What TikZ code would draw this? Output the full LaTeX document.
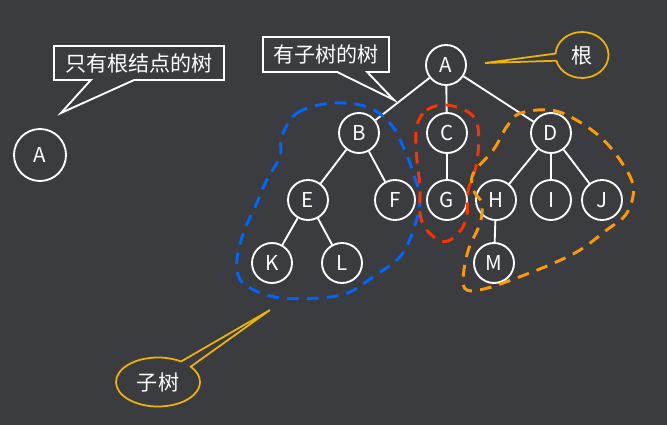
\documentclass[tikz,border=0pt]{standalone}
\usepackage{fontspec}
\setmainfont{Noto Sans CJK SC}
\usetikzlibrary{shapes.callouts,shapes.geometric}
\definecolor{bgdark}{RGB}{58,60,64}
\definecolor{subblue}{RGB}{0,102,255}
\definecolor{subred}{RGB}{255,51,0}
\definecolor{suborange}{RGB}{255,153,0}
\definecolor{tipyellow}{RGB}{240,180,0}

\begin{document}
\begin{tikzpicture}[x=0.03cm,y=-0.03cm,
    every node/.style={font=\fontsize{17.5}{19}\selectfont,text=white},
    tnode/.style={circle,draw=white,line width=1.6pt,minimum size=1.2cm,inner sep=0pt},
    tedge/.style={white,line width=1.6pt},
    boxtip/.style={rectangle callout,draw=white,line width=1.6pt,fill=bgdark,
      inner sep=0pt,font=\fontsize{18}{20}\selectfont},
    roundtip/.style={ellipse callout,draw=tipyellow,line width=1.5pt,fill=bgdark,
      inner sep=0pt,callout pointer arc=18,font=\fontsize{18}{20}\selectfont},
    blob/.style={line width=2.5pt,dash pattern=on 10pt off 7pt}]
  % background
  \fill[bgdark] (0,0) rectangle (667,425);

  % tree with only a root
  \node[tnode,minimum size=1.56cm] (solo) at (40,155) {A};
  \coordinate (soloTip) at (61,113);
  \node[boxtip,minimum width=5.1cm,minimum height=1.02cm,
    callout absolute pointer=(soloTip),callout pointer width=1.3cm] (onlyroot) at (139,63) {只有根结点的树};

  % the tree
  \node[tnode] (A) at (446,65) {A};
  \node[tnode] (B) at (359,133) {B};
  \node[tnode] (C) at (447,133) {C};
  \node[tnode] (D) at (551,133) {D};
  \node[tnode] (E) at (308,200) {E};
  \node[tnode] (F) at (395,200) {F};
  \node[tnode] (G) at (447,200) {G};
  \node[tnode] (H) at (496,200) {H};
  \node[tnode] (I) at (551,200) {I};
  \node[tnode] (J) at (602,200) {J};
  \node[tnode] (K) at (272,263) {K};
  \node[tnode] (L) at (342,263) {L};
  \node[tnode] (M) at (494,263) {M};
  \foreach \p/\c in {A/B,A/C,A/D,B/E,B/F,C/G,D/H,D/I,D/J,E/K,E/L,H/M}
    \draw[tedge] (\p) -- (\c);

  % callouts
  \coordinate (treeTip) at (394,100);
  \node[boxtip,minimum width=3.78cm,minimum height=1.05cm,
    callout absolute pointer=(treeTip),callout pointer width=0.9cm] (withsub) at (326,54.5) {有子树的树};
  \coordinate (rootTip) at (485,63);
  \node[roundtip,minimum width=1.59cm,minimum height=1.38cm,
    callout absolute pointer=(rootTip)] (rootlbl) at (582,55) {根};
  \coordinate (subTip) at (270,310);
  \node[roundtip,minimum width=2.52cm,minimum height=1.47cm,
    callout absolute pointer=(subTip)] (sublbl) at (158,382) {子树};

  % subtrees
  \draw[blob,subblue] plot[smooth cycle,tension=0.6] coordinates {
    (281.7,136.7) (296.7,113.3) (330,103.3) (366.7,106.7) (390,123.3)
    (403.3,146.7) (413.3,173.3) (420,200) (413.3,230) (400,256.7)
    (373.3,276.7) (346.7,293.3) (313.3,298.3) (273.3,296.7) (243.3,283.3)
    (236.7,263.3) (243.3,233.3) (256.7,203.3) (266.7,180) (280,156.7)};
  \draw[blob,subred] plot[smooth cycle,tension=0.6] coordinates {
    (416.7,126.7) (426.7,110) (446.7,105) (470,113.3) (478.3,130)
    (476.7,163.3) (468.3,190) (466.7,216.7) (458.3,233.3) (443.3,241.7)
    (426.7,230) (420,213.3) (420,186.7) (416.7,156.7)};
  \draw[blob,suborange] plot[smooth cycle,tension=0.6] coordinates {
    (473.3,173.3) (493.3,150) (506.7,126.7) (520,113.3) (550,110)
    (573.3,118.3) (600,136.7) (620,160) (633.3,186.7) (626.7,213.3)
    (606.7,230) (580,250) (553.3,263.3) (520,276.7) (486.7,288.3)
    (466.7,290) (463.3,276.7) (468.3,250) (480,223.3) (481.7,203.3)
    (473.3,190)};
\end{tikzpicture}
\end{document}
